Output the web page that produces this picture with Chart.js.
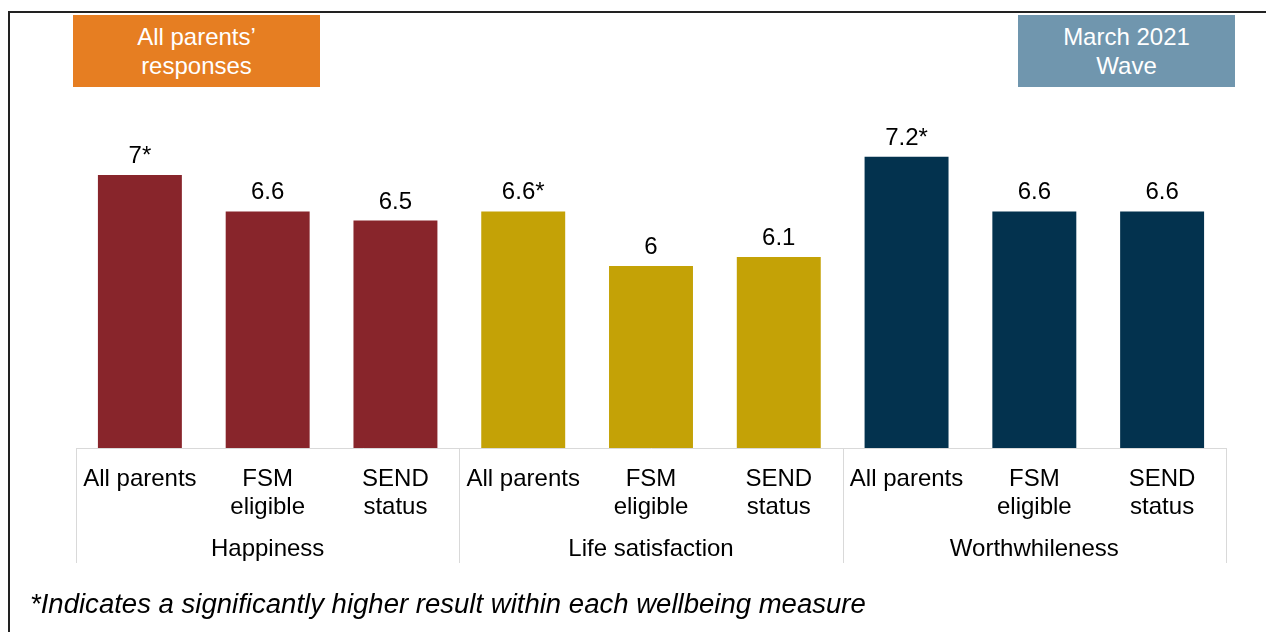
<!DOCTYPE html>
<html>
<head>
<meta charset="utf-8">
<script src="https://cdn.jsdelivr.net/npm/chart.js@4/dist/chart.umd.min.js"></script>
<style>
  html, body { margin: 0; padding: 0; background: #fff; }
  #wrap { position: relative; width: 1266px; height: 632px; font-family: "Liberation Sans", Arial, sans-serif; }
  #frame { position: absolute; left: 8px; top: 11px; width: 1258px; height: 621px; border-left: 2px solid #222; border-top: 2px solid #222; box-sizing: border-box; }
  .tag { position: absolute; color: #fff; font-size: 24px; line-height: 29px; text-align: center; display: flex; align-items: center; justify-content: center; }
  #tagLeft { left: 73px; top: 15px; width: 247px; height: 72px; background: #e67e22; }
  #tagRight { left: 1018px; top: 15px; width: 217px; height: 72px; background: #7096ae; }
  #note { position: absolute; left: 30px; top: 591px; font-size: 27px; line-height: 27px; font-style: italic; color: #000; white-space: nowrap; transform: scaleX(1.02); transform-origin: left top; }
  canvas { position: absolute; left: 0; top: 0; }
</style>
</head>
<body>
<div id="wrap">
  <div id="frame"></div>
  <canvas id="wellbeingChart" width="1266" height="632"></canvas>
  <div class="tag" id="tagLeft">All parents’<br>responses</div>
  <div class="tag" id="tagRight">March 2021<br>Wave</div>
  <div id="note">*Indicates a significantly higher result within each wellbeing measure</div>
</div>
<script>
// Chart data
const groups = ['Happiness', 'Life satisfaction', 'Worthwhileness'];
const categories = [
    ['All parents'], ['FSM', 'eligible'], ['SEND', 'status'],
    ['All parents'], ['FSM', 'eligible'], ['SEND', 'status'],
    ['All parents'], ['FSM', 'eligible'], ['SEND', 'status']
];
const values = [7, 6.6, 6.5, 6.6, 6, 6.1, 7.2, 6.6, 6.6];
const significant = [true, false, false, true, false, false, true, false, false];
const groupColours = ['#88252b', '#c4a206', '#03324e'];

const FONT = '"Liberation Sans", Arial, sans-serif';

// value labels above bars, group labels and separators below the axis
const extrasPlugin = {
    id: 'extras',
    afterDatasetsDraw(chart) {
        const ctx = chart.ctx;
        const meta = chart.getDatasetMeta(0);
        ctx.save();
        ctx.fillStyle = '#000';
        ctx.font = '24px ' + FONT;
        ctx.textAlign = 'center';
        ctx.textBaseline = 'alphabetic';
        meta.data.forEach((bar, i) => {
            const txt = values[i] + (significant[i] ? '*' : '');
            ctx.fillText(txt, bar.x, bar.y - 12);
        });

        const xScale = chart.scales.x;
        const bottom = chart.chartArea.bottom;
        const step = xScale.getPixelForValue(1) - xScale.getPixelForValue(0);
        ctx.strokeStyle = '#d9d9d9';
        ctx.lineWidth = 1;
        for (let g = 0; g <= groups.length; g++) {
            const x = Math.round(xScale.getPixelForValue(g * 3) - step / 2) + 0.5;
            ctx.beginPath();
            ctx.moveTo(x, bottom);
            ctx.lineTo(x, 563);
            ctx.stroke();
        }
        groups.forEach((name, g) => {
            const x = xScale.getPixelForValue(g * 3 + 1);
            ctx.fillText(name, x, 556);
        });
        ctx.restore();
    }
};

function createChart() {
    const ctx = document.getElementById('wellbeingChart').getContext('2d');
    new Chart(ctx, {
        type: 'bar',
        data: {
            labels: categories,
            datasets: [{
                data: values,
                backgroundColor: values.map((v, i) => groupColours[Math.floor(i / 3)]),
                categoryPercentage: 1,
                barPercentage: 0.657
            }]
        },
        options: {
            responsive: false,
            animation: false,
            layout: { padding: { left: 76, right: 40, top: 84, bottom: 0 } },
            plugins: { legend: { display: false }, tooltip: { enabled: false } },
            scales: {
                y: { display: false, min: 4, max: 8 },
                x: {
                    grid: { display: false },
                    border: { display: true, color: '#d9d9d9', width: 1 },
                    ticks: {
                        color: '#000',
                        font: { family: FONT, size: 24, lineHeight: 1.17 },
                        padding: 9,
                        maxRotation: 0,
                        autoSkip: false
                    },
                    afterFit(scale) { scale.height = 184; }
                }
            }
        },
        plugins: [extrasPlugin]
    });
}

document.addEventListener('DOMContentLoaded', createChart);
</script>
</body>
</html>
